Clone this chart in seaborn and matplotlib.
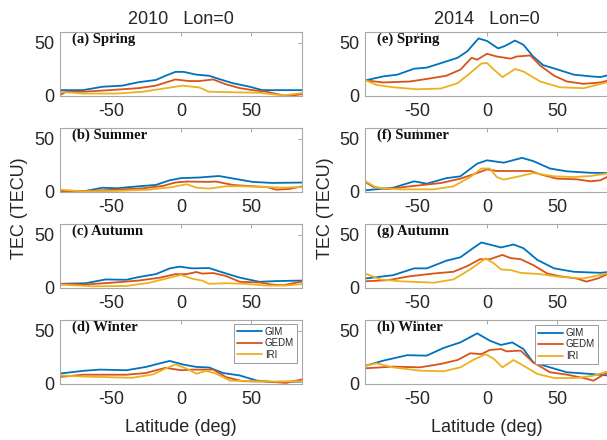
import matplotlib
matplotlib.use("Agg")
import matplotlib.pyplot as plt
import seaborn as sns
import pandas as pd

# (latitude in deg, TEC in TECU) samples for each model, season and year
spring_2010_gim = [(-87, 5.5), (-70, 5.5), (-56, 8.7), (-42, 9.7), (-30, 13), (-18, 15), (-11, 19), (-4, 22.6),
                   (2, 22.6), (11, 20), (20, 19), (27, 16), (37, 12), (49, 8.7), (58, 5.5), (88, 5.5)]
spring_2010_gedm = [(-87, 0.5), (-82, 4), (-70, 4), (-51, 5.5), (-30, 7.4), (-18, 9.7), (-4, 15.5), (6, 14),
                    (13, 14), (23, 15.5), (32, 11), (42, 7.4), (51, 5.5), (61, 4), (73, 0.6), (77, 0), (88, 2)]
spring_2010_iri = [(-87, 4), (-70, 2.3), (-46, 2.3), (-27, 4), (-15, 6.5), (1, 9.7), (13, 8), (20, 4),
                   (37, 3.5), (56, 3), (73, 0.6), (88, 3)]

summer_2010_gim = [(-87, 1), (-68, 1), (-56, 4), (-46, 3.5), (-30, 5.4), (-18, 6.6), (-8, 11), (0, 13),
                   (13, 13.6), (27, 15), (37, 12.7), (51, 9.5), (65, 8.5), (88, 8.9)]
summer_2010_gedm = [(-87, 0.3), (-68, 1), (-46, 2.2), (-27, 3.5), (-13, 5.7), (-4, 8.9), (4, 9.8), (20, 9.5),
                    (25, 9.8), (37, 6.6), (51, 5.4), (61, 4.7), (68, 2.2), (77, 2.8), (88, 5.7)]
summer_2010_iri = [(-87, 2.2), (-70, 0.6), (-46, 1), (-23, 2.2), (-6, 4.7), (4, 7.3), (11, 4.1), (20, 3.2),
                   (32, 5.4), (44, 5.4), (58, 4.7), (73, 4.1), (88, 4.7)]

autumn_2010_gim = [(-87, 3.9), (-68, 4.5), (-54, 8), (-39, 7.7), (-30, 10.3), (-18, 13), (-8, 18.4), (-1, 20),
                   (8, 18.4), (20, 18.7), (30, 14.5), (42, 9.7), (56, 5.8), (68, 6.5), (88, 7)]
autumn_2010_gedm = [(-87, 3.9), (-70, 3.2), (-51, 4.8), (-30, 7), (-15, 9.7), (-4, 13), (4, 13), (11, 15),
                    (15, 13.5), (23, 14), (32, 11.3), (42, 5.8), (56, 5.2), (65, 3.2), (73, 2.6), (88, 6.5)]
autumn_2010_iri = [(-87, 3.2), (-63, 1.6), (-39, 1.9), (-23, 4.8), (-8, 9.7), (0, 12.3), (8, 8.7), (15, 7),
                   (20, 3.9), (32, 4.5), (46, 3.9), (61, 2.3), (75, 2.3), (88, 3.9)]

winter_2010_gim = [(-87, 9.7), (-70, 12.3), (-58, 13.5), (-39, 12.9), (-25, 16), (-15, 19.4), (-8, 21.6),
                   (1, 18.4), (11, 16), (20, 15.5), (30, 10.3), (42, 8), (54, 3.2), (65, 1.9), (88, 2.3)]
winter_2010_gedm = [(-87, 6.5), (-70, 8.7), (-39, 8.7), (-25, 10.3), (-11, 15.2), (0, 12.9), (8, 13.5),
                    (23, 13.5), (32, 6.5), (44, 2.6), (61, 2.3), (75, 1), (88, 4.8)]
winter_2010_iri = [(-87, 8), (-70, 7), (-35, 5.8), (-20, 9), (-11, 14.5), (-4, 18.4), (4, 14.5), (11, 9.7),
                   (18, 12.3), (25, 9.7), (35, 3.2), (51, 2.6), (68, 2.3), (88, 2.6)]

spring_2014_gim = [(-87, 14.6), (-74, 18.4), (-64, 20), (-52, 25.6), (-43, 26.6), (-31, 31.6), (-21, 35.8),
                   (-14, 42), (-6, 54), (0, 51.6), (8, 44.6), (13, 47), (20, 52), (26, 48), (33, 37), (40, 29),
                   (50, 25), (62, 20), (74, 18.4), (81, 17.7), (88, 20)]
spring_2014_gedm = [(-87, 14.6), (-74, 12.7), (-55, 13.6), (-43, 16), (-29, 19), (-19, 24.7), (-11, 35.8),
                    (-7, 34), (0, 39.6), (7, 37), (17, 35), (21, 37), (31, 38), (38, 28.5), (48, 19), (57, 13.6),
                    (69, 11.4), (81, 12.7), (88, 15)]
spring_2014_iri = [(-87, 15), (-79, 10.4), (-67, 8.2), (-50, 6.3), (-33, 7), (-21, 12), (-12, 21.5),
                   (-4, 30.4), (0, 31), (5, 24.7), (11, 17.7), (15, 21), (20, 25.3), (26, 23), (38, 13.6),
                   (52, 8.2), (69, 7.3), (88, 13.6)]

summer_2014_gim = [(-87, 1.6), (-67, 4), (-52, 10), (-43, 7.8), (-29, 13), (-19, 14.7), (-7, 26.6), (0, 29.7),
                   (12, 27.5), (25, 32), (33, 29), (45, 22), (57, 19.4), (74, 18), (88, 17.8)]
summer_2014_gedm = [(-87, 9.4), (-81, 4.7), (-71, 2.8), (-55, 5.3), (-33, 8.4), (-19, 12.5), (-7, 17.8),
                    (0, 21.2), (7, 19.7), (31, 19.7), (38, 16.6), (50, 12.5), (64, 11.9), (74, 10), (81, 11),
                    (88, 15.6)]
summer_2014_iri = [(-87, 10.3), (-79, 4), (-62, 2.5), (-38, 2.5), (-24, 5.3), (-12, 14), (-4, 22), (2, 22),
                   (7, 14), (12, 11.6), (24, 15), (33, 17.8), (48, 14.7), (62, 14), (74, 15), (88, 17.8)]

autumn_2014_gim = [(-87, 8.9), (-67, 12), (-52, 18.4), (-43, 18.4), (-29, 25.6), (-19, 28.8), (-10, 37.3),
                   (-4, 42.7), (10, 38), (19, 40.8), (26, 37.3), (36, 26.3), (48, 18.4), (62, 15.2),
                   (81, 14.2), (88, 15.2)]
autumn_2014_gedm = [(-87, 6.3), (-71, 7.3), (-55, 11), (-38, 13.6), (-24, 15.2), (-14, 20.6), (-5, 27),
                    (2, 27), (11, 31), (17, 28), (24, 27), (33, 21.5), (43, 13.6), (52, 11), (64, 8.9), (71, 6),
                    (79, 8.9), (88, 14.2)]
autumn_2014_iri = [(-87, 13.6), (-76, 8), (-62, 6.3), (-38, 5), (-24, 8), (-12, 17.4), (-1, 27.8), (5, 23),
                   (10, 17.4), (17, 16.8), (24, 14.2), (38, 13), (52, 10.4), (69, 8.9), (88, 14.2)]

winter_2014_gim = [(-87, 17), (-74, 21.9), (-57, 27), (-43, 26.6), (-31, 33.8), (-19, 39), (-7, 47.5),
                   (2, 40.6), (10, 36.6), (18, 39), (26, 32.8), (33, 20.3), (45, 15.6), (57, 11), (74, 9.4),
                   (88, 7.8)]
winter_2014_gedm = [(-87, 14.7), (-67, 16.3), (-48, 15.6), (-33, 18.8), (-21, 22.5), (-12, 28.8), (-4, 28),
                    (2, 31.9), (10, 32.8), (14, 30.6), (24, 31.3), (33, 20.3), (45, 11), (57, 8.8), (69, 5.6),
                    (76, 3.1), (88, 12.5)]
winter_2014_iri = [(-87, 17), (-79, 19.4), (-67, 15.6), (-48, 12.5), (-31, 11.9), (-19, 15.6), (-10, 22.5),
                   (-1, 28), (5, 23.4), (11, 15.6), (19, 22.5), (26, 17.2), (36, 9.4), (48, 5.6), (64, 5.6),
                   (76, 7.8), (88, 12.5)]

models = ["GIM", "GEDM", "IRI"]
model_colors = ["#0072BD", "#D95319", "#EDB120"]
years = ["2010", "2014"]
seasons = ["Spring", "Summer", "Autumn", "Winter"]
panel_tags = [["(a)", "(b)", "(c)", "(d)"], ["(e)", "(f)", "(g)", "(h)"]]

series = {
    ("2010", "Spring"): [spring_2010_gim, spring_2010_gedm, spring_2010_iri],
    ("2010", "Summer"): [summer_2010_gim, summer_2010_gedm, summer_2010_iri],
    ("2010", "Autumn"): [autumn_2010_gim, autumn_2010_gedm, autumn_2010_iri],
    ("2010", "Winter"): [winter_2010_gim, winter_2010_gedm, winter_2010_iri],
    ("2014", "Spring"): [spring_2014_gim, spring_2014_gedm, spring_2014_iri],
    ("2014", "Summer"): [summer_2014_gim, summer_2014_gedm, summer_2014_iri],
    ("2014", "Autumn"): [autumn_2014_gim, autumn_2014_gedm, autumn_2014_iri],
    ("2014", "Winter"): [winter_2014_gim, winter_2014_gedm, winter_2014_iri],
}

rows = []
for (yr, season), curves in series.items():
    for model, pts in zip(models, curves):
        for lat, tec in pts:
            rows.append({"year": yr, "season": season, "model": model, "lat": lat, "tec": tec})
df = pd.DataFrame(rows)

sns.set_theme(style="white")
plt.rcParams["font.family"] = ["Liberation Sans", "DejaVu Sans"]
plt.rcParams["axes.unicode_minus"] = False

W, H = 607, 440
fig = plt.figure(figsize=(W / 100, H / 100), dpi=100)


def px_axes(left, top, width, height):
    return fig.add_axes([left / W, 1 - (top + height) / H, width / W, height / H])


spine_gray = "#a8a8a8"
text_col = "#262626"
col_geom = {
    "2010": dict(left=60, width=242, xlim=(-86.4, 86.4), center=181, tag_x=0.05),
    "2014": dict(left=365, width=250, xlim=(-87.1, 91.4), center=487, tag_x=0.048),
}
row_tops = [32, 128, 224, 320]
row_h = 64

for ci, yr in enumerate(years):
    g = col_geom[yr]
    for ri, season in enumerate(seasons):
        ax = px_axes(g["left"], row_tops[ri], g["width"], row_h)
        sub = df[(df.year == yr) & (df.season == season)]
        sns.lineplot(data=sub, x="lat", y="tec", hue="model", hue_order=models,
                     palette=model_colors, estimator=None, sort=False,
                     linewidth=1.3, ax=ax, legend=(season == "Winter"))
        ax.set_xlim(*g["xlim"])
        ax.set_ylim(0, 60)
        ax.set_xticks([-50, 0, 50])
        ax.set_yticks([0, 50])
        ax.set_xlabel("")
        ax.set_ylabel("")
        for sp in ax.spines.values():
            sp.set_color(spine_gray)
            sp.set_linewidth(0.8)
        ax.tick_params(axis="both", direction="in", length=3, width=0.7, color=spine_gray,
                       labelsize=13, labelcolor=text_col, top=True, right=True)
        ax.tick_params(axis="x", pad=5)
        ax.tick_params(axis="y", pad=4)
        ax.text(g["tag_x"], 0.89, f"{panel_tags[ci][ri]} {season}", transform=ax.transAxes,
                family=["Liberation Serif", "DejaVu Serif"], fontweight="bold", fontsize=10.5,
                va="center", ha="left", color="#111111")
        if season == "Winter":
            handles, labels = ax.get_legend_handles_labels()
            anchor = (0.979, 0.94) if yr == "2010" else (0.932, 0.92)
            leg = ax.legend(handles, labels, loc="upper right", bbox_to_anchor=anchor,
                            borderaxespad=0, fontsize=7, handlelength=2.6, handletextpad=0.3,
                            labelspacing=0.15, borderpad=0.3, fancybox=False, framealpha=1)
            leg.get_frame().set_edgecolor("#9a9a9a")
            leg.get_frame().set_linewidth(0.7)
            for line in leg.get_lines():
                line.set_linewidth(1.3)

    fig.text(g["center"] / W, 1 - 20 / H, f"{yr}   Lon=0", ha="center", va="center",
             fontsize=13, color=text_col)
    fig.text(g["center"] / W, 1 - 427 / H, "Latitude (deg)", ha="center", va="center",
             fontsize=13, color=text_col)

fig.text(20 / W, 1 - 208 / H, "TEC (TECU)", rotation=90, ha="center", va="center",
         fontsize=13, color=text_col)
fig.text(326 / W, 1 - 208 / H, "TEC (TECU)", rotation=90, ha="center", va="center",
         fontsize=13, color=text_col)

fig.savefig("out.png", dpi=100, facecolor="white")
